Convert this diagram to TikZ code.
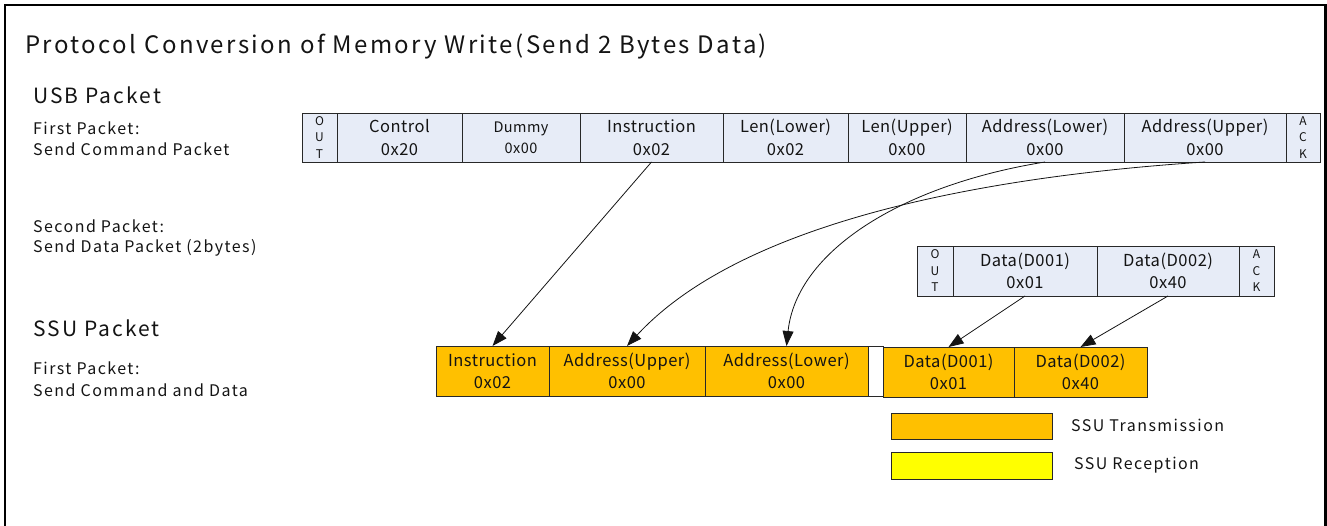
\documentclass[tikz,border=0pt]{standalone}
\usepackage{fontspec}
\setmainfont{Noto Sans CJK JP}[LetterSpace=9]
\newfontfamily\cellfont{Noto Sans CJK JP}[LetterSpace=3]
\newfontfamily\titlefont{Noto Sans CJK JP}[LetterSpace=10]
\usetikzlibrary{arrows.meta,calc}
\definecolor{usbfill}{RGB}{231,236,247}
\definecolor{ssufill}{RGB}{255,192,0}
\definecolor{rxfill}{RGB}{255,255,0}
\definecolor{edge}{RGB}{40,40,40}
\definecolor{ink}{RGB}{20,20,20}
\tikzset{
  cell/.style={draw=edge, line width=0.9pt, inner sep=0pt, outer sep=0pt,
    anchor=north west, align=center, text=ink, font=\cellfont\fontsize{16.5}{23}\selectfont},
  usbcell/.style={cell, fill=usbfill, minimum height=49pt},
  datacell/.style={cell, fill=usbfill, minimum height=50pt, font=\cellfont\fontsize{16.5}{22}\selectfont},
  smallcell/.style={cell, fill=usbfill, font=\cellfont\fontsize{12}{16.5}\selectfont},
  ssucell/.style={cell, fill=ssufill, minimum height=50pt, font=\cellfont\fontsize{16.5}{22}\selectfont},
  legbox/.style={draw=edge, line width=0.9pt, inner sep=0pt, outer sep=0pt, anchor=north west,
    minimum width=161pt},
  lbl/.style={anchor=west, inner sep=0pt, text=ink, font=\fontsize{16}{21}\selectfont},
  head/.style={anchor=west, inner sep=0pt, text=ink, font=\titlefont\fontsize{21}{25}\selectfont},
  arr/.style={draw=ink, line width=0.8pt, -{Triangle[length=15pt,width=11pt]}},
}
\begin{document}
\begin{tikzpicture}[x=1pt,y=-1pt]
\useasboundingbox (0,0) rectangle (1327,526);
\draw[line width=2.5pt] (5,540) -- (5,5) -- (1325.5,5) -- (1325.5,540);

\node[anchor=west, inner sep=0pt, text=ink, font=\titlefont\fontsize{24}{28}\selectfont] (title) at (25,46)
  {Protocol Conversion of Memory Write(Send 2 Bytes Data)};
\node[head] (usbh) at (33,95) {USB Packet};
\node[lbl] (fp1) at (33,128) {First Packet:};
\node[lbl] (fp2) at (33,149) {Send Command Packet};
\node[lbl] (sp1) at (33,226) {Second Packet:};
\node[lbl] (sp2) at (33,248) {Send Data Packet (2bytes)};
\node[head] (ssuh) at (33,328) {SSU Packet};
\node[lbl] (sf1) at (33,368) {First Packet:};
\node[lbl] (sf2) at (33,390) {Send Command and Data};

% USB first packet
\node[smallcell, minimum width=35pt, minimum height=49pt] (uout) at (302,113) {O\\U\\T};
\node[usbcell, minimum width=125pt] (uctl) at (337,113) {Control\\0x20};
\node[usbcell, minimum width=118pt, font=\cellfont\fontsize{14.5}{21}\selectfont] (udum) at (462,113) {Dummy\\0x00};
\node[usbcell, minimum width=143pt] (uins) at (580,113) {Instruction\\0x02};
\node[usbcell, minimum width=125pt] (ulenl) at (723,113) {Len(Lower)\\0x02};
\node[usbcell, minimum width=118pt] (ulenu) at (848,113) {Len(Upper)\\0x00};
\node[usbcell, minimum width=158pt] (uadl) at (966,113) {Address(Lower)\\0x00};
\node[usbcell, minimum width=162pt] (uadu) at (1124,113) {Address(Upper)\\0x00};
\node[smallcell, minimum width=34pt, minimum height=49pt] (uack) at (1286,113) {A\\C\\K};

% USB second packet
\node[smallcell, minimum width=36pt, minimum height=50pt] (dout) at (917,246) {O\\U\\T};
\node[datacell, minimum width=144pt] (dd1) at (953,246) {Data(D001)\\0x01};
\node[datacell, minimum width=142pt] (dd2) at (1097,246) {Data(D002)\\0x40};
\node[smallcell, minimum width=35pt, minimum height=50pt] (dack) at (1239,246) {A\\C\\K};

% SSU packet
\node[ssucell, minimum width=113pt] (sins) at (436,346) {Instruction\\0x02};
\node[ssucell, minimum width=156pt] (sadu) at (549,346) {Address(Upper)\\0x00};
\node[ssucell, minimum width=163pt] (sadl) at (705,346) {Address(Lower)\\0x00};
\node[cell, fill=white, minimum width=15pt, minimum height=50pt] (sgap) at (868,346) {};
\node[ssucell, minimum width=131pt] (sd1) at (883,347) {Data(D001)\\0x01};
\node[ssucell, minimum width=133pt] (sd2) at (1014,347) {Data(D002)\\0x40};

% legend
\node[legbox, fill=ssufill, minimum height=26pt] (legtx) at (891,413) {};
\node[legbox, fill=rxfill, minimum height=27pt] (legrx) at (891,452) {};
\node[lbl] (legtxl) at (1071,425) {SSU Transmission};
\node[lbl] (legrxl) at (1074,465) {SSU Reception};

% connectors
\draw[arr] (uins.south) -- (sins.north);
\draw[arr] (uadu.south) .. controls ($(uadu.south)+(-200,13)$) and ($(sadu.north)+(120,-130)$) .. (sadu.north);
\draw[arr] (uadl.south) .. controls ($(uadl.south)+(-143,23)$) and ($(sadl.north)+(10,-95)$) .. (sadl.north);
\draw[arr] (dd1.south) -- (sd1.north);
\draw[arr] (dd2.south) -- (sd2.north);
\end{tikzpicture}
\end{document}
